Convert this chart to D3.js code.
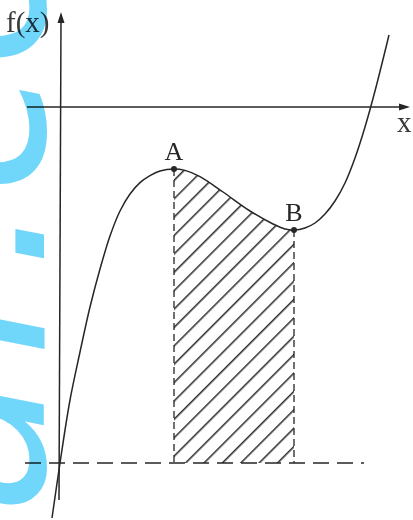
<!DOCTYPE html>
<meta charset="utf-8">
<title>cubic area</title>
<style>
  body { margin: 0; background: #fff; }
  svg { display: block; }
  .wm { mix-blend-mode: multiply; }
</style>
<body>
<div id="chart"></div>
</body>
<script src="https://d3js.org/d3.v7.min.js"></script>
<script>

// curve points (axis units)
var curveX = [-0.4, 0, 0.5, 1.0, 1.5, 2.0, 2.5, 3.0, 3.5, 4.0, 4.5, 5.0, 5.7,
              6.25, 7.0, 8.15, 9.5, 10.65, 11.25, 11.7,
              12.25, 12.75, 13.25, 13.75, 14.25, 14.75, 15.25, 15.75, 16.45];
var curveY = [-20.55, -17.8, -14.65, -12.25, -10.0, -8.1, -6.45, -5.2, -4.35, -3.78, -3.43, -3.2, -3.1,
              -3.17, -3.48, -4.25, -5.2, -5.85, -6.1, -6.15,
              -6.05, -5.8, -5.35, -4.7, -3.8, -2.55, -1.0, 0.8, 3.6];

var pointNames = ["A", "B"];
var pointX = [5.7, 11.7];
var pointY = [-3.1, -6.15];

var baseY = -17.8;          // dashed horizontal line, f(0)
var axisLabels = ["f(x)", "x"];
var watermark = "ar.com";

var w = 413, h = 520;

var svg = d3.select("#chart").append("svg")
    .attr("width", w)
    .attr("height", h);

var x = d3.scaleLinear().domain([-3, 17.65]).range([0, w]);
var y = d3.scaleLinear().domain([5.35, -20.65]).range([0, h]);

var ink = "#262626";

var data = curveX.map(function(d, i) { return {x: d, y: curveY[i]}; });

var defs = svg.append("defs");

defs.append("pattern")
    .attr("id", "hatch")
    .attr("patternUnits", "userSpaceOnUse")
    .attr("width", 13)
    .attr("height", 13)
    .attr("patternTransform", "translate(4,0) rotate(45)")
  .append("line")
    .attr("x1", 0.8).attr("y1", 0)
    .attr("x2", 0.8).attr("y2", 13)
    .attr("stroke", ink)
    .attr("stroke-width", 1.5);

defs.append("clipPath")
    .attr("id", "between")
  .append("rect")
    .attr("x", x(pointX[0]))
    .attr("y", 0)
    .attr("width", x(pointX[1]) - x(pointX[0]))
    .attr("height", h);

var smooth = d3.curveCatmullRom.alpha(0.5);

// hatched area between A and B
var area = d3.area()
    .x(function(d) { return x(d.x); })
    .y0(y(baseY))
    .y1(function(d) { return y(d.y); })
    .curve(smooth);

svg.append("path")
    .datum(data)
    .attr("d", area)
    .attr("fill", "url(#hatch)")
    .attr("clip-path", "url(#between)");

// axes with arrow heads
svg.append("line")
    .attr("x1", x(-1.65)).attr("y1", y(0))
    .attr("x2", x(17.2)).attr("y2", y(0))
    .attr("stroke", ink).attr("stroke-width", 1.5);

svg.append("path")
    .attr("d", "M" + x(17.5) + "," + y(0) + "l-11,-3.5v7z")
    .attr("fill", ink);

svg.append("line")
    .attr("x1", x(-0.05)).attr("y1", y(-19.65))
    .attr("x2", x(0.05)).attr("y2", y(4.4))
    .attr("stroke", ink).attr("stroke-width", 1.5);

svg.append("path")
    .attr("d", "M" + x(0.05) + "," + y(4.75) + "l-3.5,11h7z")
    .attr("fill", ink);

// dashed lines
svg.append("line")
    .attr("x1", x(-1.75)).attr("y1", y(baseY))
    .attr("x2", x(15.2)).attr("y2", y(baseY))
    .attr("stroke", ink).attr("stroke-width", 1.5)
    .attr("stroke-dasharray", "16,8");

svg.selectAll("line.drop")
    .data(pointX)
    .enter()
    .append("line")
    .attr("class", "drop")
    .attr("x1", function(d) { return x(d); })
    .attr("x2", function(d) { return x(d); })
    .attr("y1", function(d, i) { return y(pointY[i]); })
    .attr("y2", y(baseY))
    .attr("stroke", ink).attr("stroke-width", 1.3)
    .attr("stroke-dasharray", "7,4");

// the curve
var line = d3.line()
    .x(function(d) { return x(d.x); })
    .y(function(d) { return y(d.y); })
    .curve(smooth);

svg.append("path")
    .datum(data)
    .attr("d", line)
    .attr("fill", "none")
    .attr("stroke", ink)
    .attr("stroke-width", 1.5);

// A and B
var pts = svg.selectAll("g.pt")
    .data(pointNames)
    .enter()
    .append("g")
    .attr("class", "pt")
    .attr("transform", function(d, i) {
      return "translate(" + x(pointX[i]) + "," + y(pointY[i]) + ")";
    });

pts.append("circle")
    .attr("r", 3)
    .attr("fill", ink);

pts.append("text")
    .text(function(d) { return d; })
    .attr("text-anchor", "middle")
    .attr("dy", -9)
    .attr("font-family", "Liberation Serif, serif")
    .attr("font-size", 26)
    .attr("fill", ink);

// axis labels
svg.append("text")
    .text(axisLabels[0])
    .attr("x", 6).attr("y", 32)
    .attr("font-family", "Liberation Serif, serif")
    .attr("font-size", 29)
    .attr("fill", "#3a3a3a");

svg.append("text")
    .text(axisLabels[1])
    .attr("x", 397).attr("y", 132)
    .attr("font-family", "Liberation Serif, serif")
    .attr("font-size", 29)
    .attr("fill", "#3a3a3a");

// cyan watermark running up the left edge
svg.append("text")
    .attr("class", "wm")
    .text(watermark)
    .attr("transform", "translate(44,514) rotate(-90)")
    .attr("dx", "0 16 12 4 0 0")
    .attr("font-family", "DejaVu Sans, sans-serif")
    .attr("font-style", "italic")
    .attr("font-size", 230)
    .attr("fill", "#70d6fa");

</script>
